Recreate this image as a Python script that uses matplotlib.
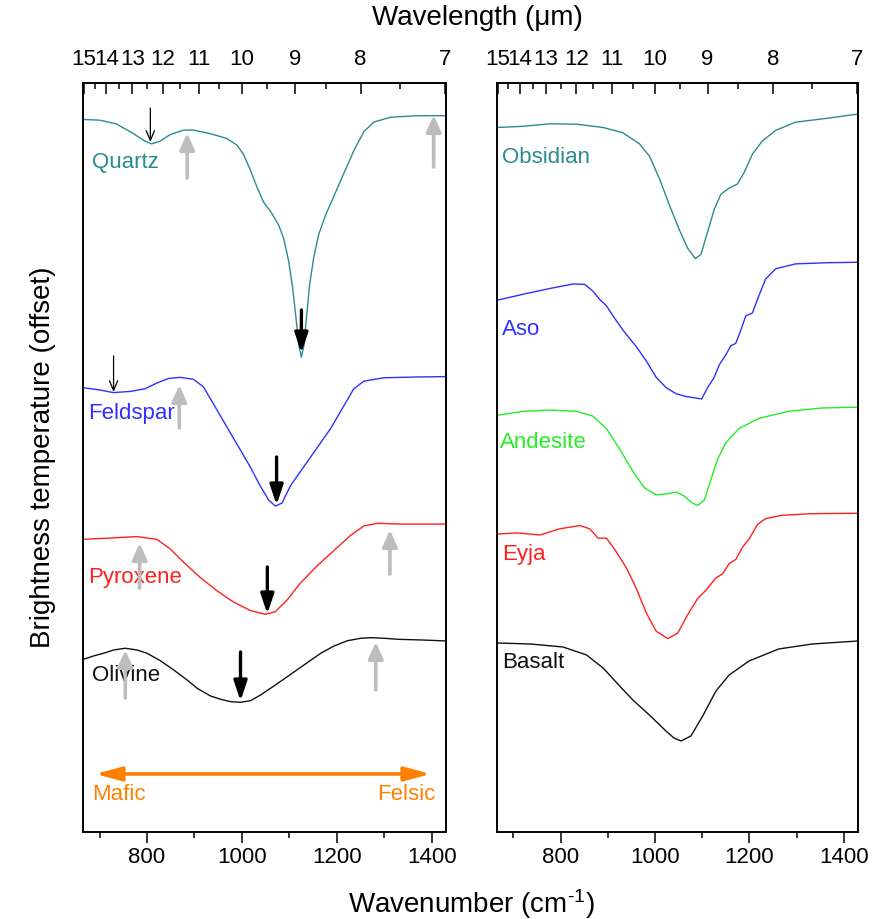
import numpy as np
import matplotlib.pyplot as plt

plt.rcParams['font.family'] = ['Liberation Sans', 'DejaVu Sans']
plt.rcParams['mathtext.default'] = 'regular'

TEAL = '#2a8c8c'
BLUE = '#3030ff'
GREEN = '#22ee22'
RED = '#ff2020'
BLACK = '#111111'
GREY = '#bdbdbd'
ORANGE = '#ff8000'

# ---- minerals (left panel), brightness temperature with offsets ----
quartz_wn = [665.5, 700.7, 735.9, 771.1, 795.7, 809.8, 827.4, 848.5, 876.7, 897.8, 933,
             968.2, 989.3, 1003.4, 1017.5, 1031.6, 1045.7, 1063.3, 1077.3, 1087.9, 1098.5,
             1106.9, 1114, 1119.6, 1125.2, 1130.8, 1135.8, 1142.8, 1151.3, 1161.8, 1175.9,
             1193.5, 1214.6, 1235.7, 1256.8, 1278, 1313.2, 1369.5, 1432.9]
quartz_bt = [71.25, 71.18, 70.8, 69.84, 69.08, 68.81, 69.08, 69.73, 70.19, 70.19, 69.84,
             69.35, 68.7, 67.75, 66.22, 64.5, 62.99, 61.84, 60.7, 59.37, 57.08,
             54.41, 51.37, 48.7, 47.48, 48.7, 51.37, 54.79, 57.46, 59.75, 61.65,
             63.56, 65.84, 68.13, 70.03, 70.99, 71.48, 71.63, 71.63]

feldspar_wn = [665.5, 700.7, 728.9, 764, 795.7, 820.4, 845, 869.7, 897.8, 918.9, 940,
               961.2, 989.3, 1017.5, 1038.6, 1056.2, 1070.3, 1084.4, 1102, 1130.1, 1158.3,
               1186.5, 1214.6, 1235.7, 1256.8, 1299.1, 1369.5, 1432.9]
feldspar_bt = [44.43, 44.2, 43.94, 44.05, 44.32, 44.89, 45.35, 45.46, 45.27, 44.51, 42.8,
               41.08, 38.8, 36.51, 34.6, 33.2, 32.59, 32.89, 34.6, 36.51, 38.41,
               40.32, 42.6, 44.32, 45.08, 45.42, 45.5, 45.54]

pyroxene_wn = [665.5, 721.8, 778.1, 820.4, 848.5, 876.7, 911.9, 947.1, 982.3, 1017.5,
               1049.2, 1070.3, 1094.9, 1123.1, 1158.3, 1193.5, 1228.7, 1256.8, 1285,
               1334.3, 1432.9]
pyroxene_bt = [29.27, 29.39, 29.54, 29.27, 28.32, 26.99, 25.46, 24.13, 22.99, 22.15,
               21.77, 22.03, 23.18, 24.89, 26.61, 28.13, 29.65, 30.6, 30.87,
               30.79, 30.79]

olivine_wn = [666.1, 687.3, 708.4, 729.5, 754.2, 778.9, 800, 828.1, 856.2, 884.5, 905.6,
              933.7, 955, 976, 997.1, 1018.2, 1039.3, 1067.4, 1095.7, 1130.8, 1166, 1194.1,
              1222.5, 1250.5, 1271.6, 1299.7, 1328, 1377.2, 1432]
olivine_bt = [17.27, 17.6, 17.87, 18.2, 18.37, 18.2, 17.87, 17.13, 16.2, 15.2, 14.37,
              13.6, 13.27, 13.03, 12.97, 13.13, 13.7, 14.6, 15.53, 16.7, 17.87, 18.6,
              19.13, 19.37, 19.43, 19.37, 19.27, 19.2, 19.1]

# ---- rocks (right panel) ----
obsidian_wn = [665, 721.2, 777.4, 833.7, 889.9, 932.1, 967.2, 988.3, 1009.4, 1030.5, 1051.5,
               1069.1, 1085.3, 1097.2, 1111.3, 1125.3, 1139.4, 1157, 1174.5, 1188.6, 1206.2,
               1227.2, 1255.4, 1297.5, 1367.8, 1430]
obsidian_bt = [70.45, 70.57, 70.82, 70.78, 70.45, 69.92, 68.81, 67.58, 65.33, 62.67, 60.21,
               58.37, 57.34, 57.75, 60.01, 62.26, 63.77, 64.39, 64.8, 65.94, 67.79,
               69.1, 70.16, 70.98, 71.39, 71.8]

aso_wn = [665, 721.2, 777.4, 826.6, 851.2, 868.8, 882.9, 896.9, 911, 932.1, 960.2, 981.3,
          1002.3, 1023.4, 1044.5, 1065.6, 1083.2, 1098.6, 1111.3, 1125.3, 1135.9, 1149.9,
          1160.5, 1171, 1181.6, 1192.1, 1206.2, 1220.2, 1234.3, 1255.4, 1297.5, 1367.8, 1430]
aso_bt = [53.17, 53.78, 54.35, 54.8, 54.76, 54.07, 53.25, 52.63, 51.61, 50.18, 48.54, 47.11,
          45.47, 44.44, 43.83, 43.54, 43.42, 43.3, 44.44, 45.47, 46.7, 47.72,
          48.62, 48.87, 50.18, 51.61, 51.9, 53.66, 55.3, 56.32, 56.81, 56.93, 56.97]

andesite_wn = [665, 721.2, 777.4, 833.7, 868.8, 896.9, 925, 953.1, 977.7, 1002.3, 1023.4,
               1044.5, 1062.1, 1076.1, 1090.2, 1104.2, 1118.3, 1132.4, 1149.9, 1178.1,
               1220.2, 1283.5, 1353.7, 1430]
andesite_bt = [41.66, 42.07, 42.19, 42.07, 41.58, 40.35, 38.3, 36.05, 34.41, 33.72, 33.8,
               34.0, 33.59, 32.98, 32.65, 33.18, 35.23, 37.28, 38.92, 40.35,
               41.37, 42.07, 42.4, 42.48]

eyja_wn = [665, 707.2, 756.4, 798.5, 840.7, 861.8, 879.4, 897, 914.5, 939.1, 960.2, 981.3,
           1002.3, 1026.9, 1048, 1069.1, 1090.2, 1107.8, 1128.8, 1142.9, 1157, 1171, 1185.1,
           1199.1, 1216.7, 1234.3, 1269.4, 1332.7, 1430]
eyja_bt = [29.78, 29.91, 29.7, 30.32, 30.64, 30.32, 29.38, 29.38, 28.27, 26.43, 24.38, 21.92,
           20.08, 19.34, 19.88, 21.72, 23.35, 24.17, 25.4, 25.81, 26.84, 27.25, 28.47,
           29.29, 30.73, 31.34, 31.67, 31.83, 31.87]

basalt_wn = [665, 735, 805, 855, 890, 925, 953, 988, 1023, 1040, 1055, 1076, 1101, 1129,
             1157, 1199, 1262, 1333, 1430]
basalt_bt = [18.9, 18.8, 18.5, 17.7, 16.4, 14.6, 13.2, 11.7, 10.1, 9.4, 9.1, 9.6, 11.6, 14.1,
             15.7, 17.1, 18.3, 18.8, 19.1]

# label anchors (wavenumber, brightness temperature)
mineral_labels = ['Quartz', 'Feldspar', 'Pyroxene', 'Olivine']
mineral_label_pos = [(684.5, 66.9), (676, 41.8), (676, 25.4), (684.5, 15.6)]
rock_labels = ['Obsidian', 'Aso', 'Andesite', 'Eyja', 'Basalt']
rock_label_pos = [(676, 67.4), (676, 50.2), (672, 38.9), (676, 27.7), (676, 16.9)]

# arrows: (wavenumber, tail, head)
thin_arrows = [(807, 72.4, 69.0), (729.5, 47.6, 44.0)]
band_arrows = [(1125.3, 52.2, 47.9), (1073, 37.5, 32.7), (1053.5, 26.5, 21.8), (997, 18.0, 13.1)]
grey_arrows = [(884.5, 65.4, 69.9), (1404, 66.5, 71.7), (868, 40.4, 44.7),
               (784.4, 24.4, 28.9), (1311.8, 25.8, 30.2), (754.2, 13.4, 18.2),
               (1282, 14.2, 19.0)]

# wavelength axis
wl_major = [15, 14, 13, 12, 11, 10, 9, 8, 7]
wl_minor = [14.5, 13.5, 12.5, 11.5, 10.5, 9.5, 8.5, 7.5]

XLIM = (665, 1430)
YLIM = (0, 74.9)

fig = plt.figure(figsize=(8.92, 9.19), dpi=100)
ax1 = fig.add_axes([0.093, 0.0947, 0.407, 0.815])
ax2 = fig.add_axes([0.557, 0.0947, 0.405, 0.815])


def style_panel(ax):
    ax.set_xlim(*XLIM)
    ax.set_ylim(*YLIM)
    ax.set_yticks([])
    ax.set_xticks([800, 1000, 1200, 1400])
    ax.set_xticks([700, 900, 1100, 1300], minor=True)
    ax.tick_params(axis='x', which='major', direction='out', length=8, width=1.1,
                   labelsize=16, pad=3)
    ax.tick_params(axis='x', which='minor', direction='out', length=4.5, width=1.1)
    for s in ax.spines.values():
        s.set_linewidth(1.2)

    top = ax.twiny()
    top.set_xlim(*XLIM)
    top.set_xticks(10000.0 / np.array(wl_major))
    top.set_xticklabels([str(w) for w in wl_major])
    top.set_xticks(10000.0 / np.array(wl_minor), minor=True)
    top.tick_params(axis='x', which='major', direction='in', length=8, width=1.1,
                    labelsize=16, pad=9)
    top.tick_params(axis='x', which='minor', direction='in', length=4.5, width=1.1)
    for s in top.spines.values():
        s.set_linewidth(1.2)


style_panel(ax1)
style_panel(ax2)

# left: minerals
for wn, bt, c in [(quartz_wn, quartz_bt, TEAL), (feldspar_wn, feldspar_bt, BLUE),
                  (pyroxene_wn, pyroxene_bt, RED), (olivine_wn, olivine_bt, BLACK)]:
    ax1.plot(wn, bt, color=c, lw=1.0, solid_joinstyle='round')

for name, (x, y), c in zip(mineral_labels, mineral_label_pos, [TEAL, BLUE, RED, BLACK]):
    ax1.text(x, y, name, color=c, fontsize=16, va='center', ha='left')

for x, y0, y1 in grey_arrows:
    ax1.annotate('', xy=(x, y1), xytext=(x, y0),
                 arrowprops=dict(arrowstyle='-|>,head_length=1.0,head_width=0.45',
                                 mutation_scale=10, color=GREY, lw=2.6,
                                 shrinkA=0, shrinkB=0))
for x, y0, y1 in band_arrows:
    ax1.annotate('', xy=(x, y1), xytext=(x, y0),
                 arrowprops=dict(arrowstyle='-|>,head_length=1.2,head_width=0.4',
                                 mutation_scale=10, color='black', lw=2.4,
                                 shrinkA=0, shrinkB=0))
for x, y0, y1 in thin_arrows:
    ax1.annotate('', xy=(x, y1), xytext=(x, y0),
                 arrowprops=dict(arrowstyle='->,head_length=0.7,head_width=0.3',
                                 mutation_scale=10, color='black', lw=0.9,
                                 shrinkA=0, shrinkB=0))

# mafic <-> felsic scale
ax1.annotate('', xy=(690.8, 5.8), xytext=(1398, 5.8),
             arrowprops=dict(arrowstyle='<|-|>,head_length=1.3,head_width=0.35',
                             mutation_scale=12, color=ORANGE, lw=2.6,
                             shrinkA=0, shrinkB=0))
ax1.text(684.5, 3.7, 'Mafic', color=ORANGE, fontsize=16, ha='left', va='center')
ax1.text(1408.6, 3.7, 'Felsic', color=ORANGE, fontsize=16, ha='right', va='center')

# right: rocks
for wn, bt, c in [(obsidian_wn, obsidian_bt, TEAL), (aso_wn, aso_bt, BLUE),
                  (andesite_wn, andesite_bt, GREEN), (eyja_wn, eyja_bt, RED),
                  (basalt_wn, basalt_bt, BLACK)]:
    ax2.plot(wn, bt, color=c, lw=1.0, solid_joinstyle='round')

for name, (x, y), c in zip(rock_labels, rock_label_pos, [TEAL, BLUE, GREEN, RED, BLACK]):
    ax2.text(x, y, name, color=c, fontsize=16, va='center', ha='left')

fig.text(0.535, 0.980, 'Wavelength (\u03bcm)', fontsize=20, ha='center', va='center')
fig.text(0.528, 0.0165, 'Wavenumber (cm$^{\u2010 1}$)', fontsize=20, ha='center', va='center')
fig.text(0.048, 0.502, 'Brightness temperature (offset)', fontsize=20, ha='center',
         va='center', rotation=90)

fig.savefig('out.png', dpi=100)
